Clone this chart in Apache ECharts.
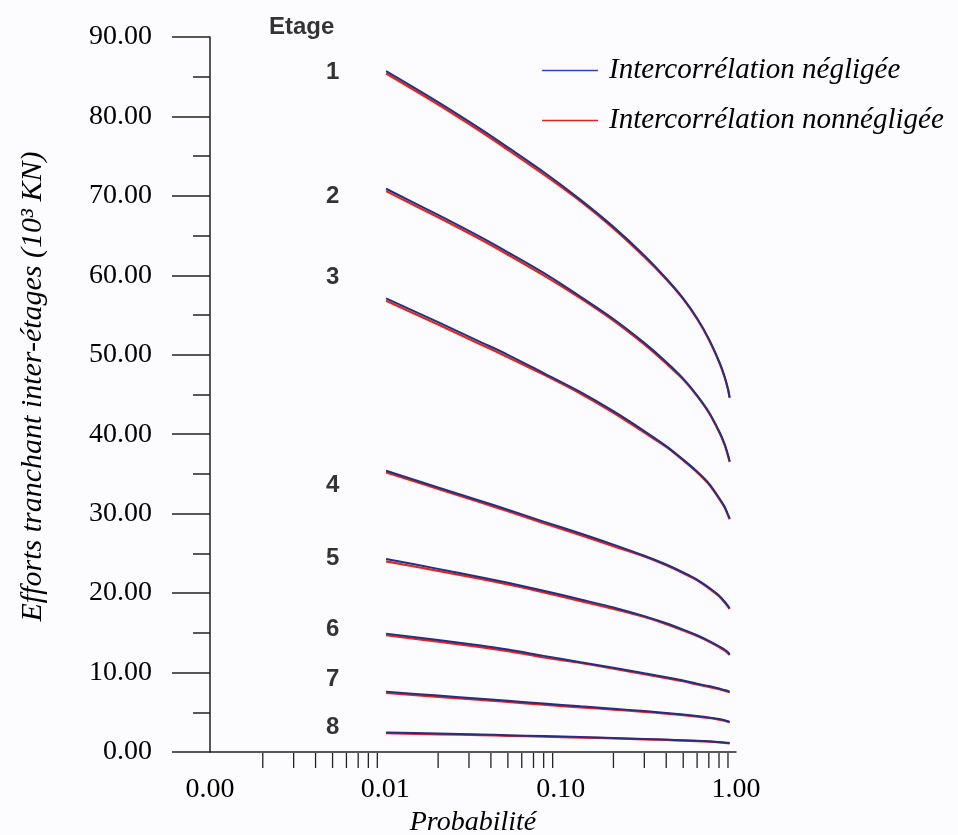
<!DOCTYPE html>
<html>
<head>
<meta charset="utf-8">
<script src="https://cdn.jsdelivr.net/npm/echarts@6/dist/echarts.min.js"></script>
<style>
  html, body { margin: 0; padding: 0; background: #fcfcfe; }
  #chart { width: 958px; height: 835px; }
</style>
</head>
<body>
<div id="chart"></div>
<script>
// Probabilité de dépassement (axe logarithmique)
const probabilite = [0.0101, 0.02, 0.035, 0.05, 0.08, 0.13, 0.2, 0.3, 0.4, 0.5, 0.6, 0.7, 0.8, 0.86, 0.9, 0.92];

// Efforts tranchants, intercorrélation négligée (10³ KN)
const etage1N = [85.7, 81.8, 78.4, 76.1, 73.0, 69.5, 66.1, 62.5, 59.6, 57.1, 54.6, 52.0, 49.2, 47.3, 45.7, 44.6];
const etage2N = [70.9, 67.6, 64.8, 62.9, 60.3, 57.3, 54.5, 51.5, 49.1, 47.0, 44.9, 42.8, 40.4, 38.8, 37.4, 36.6];
const etage3N = [57.1, 54.1, 51.6, 50.0, 47.7, 45.3, 42.9, 40.4, 38.5, 36.8, 35.3, 33.8, 32.0, 30.9, 29.9, 29.4];
const etage4N = [35.4, 33.3, 31.6, 30.5, 29.0, 27.5, 26.1, 24.7, 23.6, 22.6, 21.7, 20.7, 19.7, 18.95, 18.4, 18.1];
const etage5N = [24.3, 23.05, 22.0, 21.3, 20.3, 19.2, 18.2, 17.1, 16.2, 15.4, 14.7, 14.0, 13.3, 12.9, 12.55, 12.3];
const etage6N = [14.9, 14.1, 13.4, 12.9, 12.1, 11.3, 10.6, 9.9, 9.4, 9.0, 8.6, 8.3, 8.0, 7.8, 7.67, 7.6];
const etage7N = [7.6, 7.1, 6.7, 6.45, 6.1, 5.75, 5.45, 5.15, 4.92, 4.72, 4.53, 4.35, 4.15, 4.0, 3.88, 3.8];
const etage8N = [2.45, 2.32, 2.2, 2.12, 2.0, 1.88, 1.77, 1.65, 1.56, 1.48, 1.41, 1.34, 1.26, 1.2, 1.15, 1.12];

// Efforts tranchants, intercorrélation non négligée (10³ KN)
const etage1C = [85.4, 81.5, 78.1, 75.8, 72.7, 69.3, 65.9, 62.3, 59.5, 57.0, 54.5, 51.9, 49.1, 47.2, 45.65, 44.6];
const etage2C = [70.6, 67.3, 64.5, 62.6, 60.0, 57.1, 54.3, 51.3, 48.9, 46.9, 44.8, 42.7, 40.3, 38.7, 37.3, 36.5];
const etage3C = [56.8, 53.8, 51.3, 49.7, 47.5, 45.1, 42.7, 40.2, 38.4, 36.7, 35.2, 33.7, 31.9, 30.8, 29.8, 29.3];
const etage4C = [35.2, 33.1, 31.4, 30.3, 28.8, 27.3, 25.9, 24.6, 23.5, 22.5, 21.6, 20.6, 19.6, 18.85, 18.3, 18.0];
const etage5C = [24.0, 22.8, 21.8, 21.1, 20.1, 19.0, 18.0, 17.0, 16.1, 15.3, 14.6, 13.9, 13.2, 12.8, 12.45, 12.2];
const etage6C = [14.7, 13.9, 13.2, 12.7, 11.9, 11.2, 10.5, 9.8, 9.3, 8.9, 8.5, 8.2, 7.9, 7.72, 7.58, 7.5];
const etage7C = [7.45, 6.95, 6.55, 6.3, 5.95, 5.62, 5.33, 5.05, 4.83, 4.64, 4.46, 4.28, 4.08, 3.93, 3.8, 3.73];
const etage8C = [2.36, 2.23, 2.12, 2.04, 1.93, 1.82, 1.71, 1.6, 1.51, 1.44, 1.37, 1.3, 1.22, 1.16, 1.1, 1.07];

const seriesNeglige = [etage1N, etage2N, etage3N, etage4N, etage5N, etage6N, etage7N, etage8N];
const seriesCorrele = [etage1C, etage2C, etage3C, etage4C, etage5C, etage6C, etage7C, etage8C];

const nomNeglige = 'Intercorrélation négligée';
const nomCorrele = 'Intercorrélation nonnégligée';

// Graduations secondaires de l'axe des probabilités
const xMinorTicks = [0.002, 0.003, 0.004, 0.005, 0.006, 0.007, 0.008, 0.009,
                     0.02, 0.03, 0.04, 0.05, 0.06, 0.07, 0.08, 0.09,
                     0.2, 0.3, 0.4, 0.5, 0.6, 0.7, 0.8, 0.9];

// Repères des étages
const etageNumeros = ['1', '2', '3', '4', '5', '6', '7', '8'];
const etageLabelY = [85.6, 69.9, 59.7, 33.5, 24.4, 15.4, 9.1, 3.1];
const etageLabelX = 0.005;
const etageTitre = 'Etage';

const serif = '"Liberation Serif", "Times New Roman", serif';
const sans = '"Liberation Sans", Arial, sans-serif';
const BLUE = '#2a46c8';
const RED = '#e02424';

const chart = echarts.init(document.getElementById('chart'), null, { renderer: 'canvas' });

const lineSeries = [];
for (let i = 0; i < 8; i++) {
  lineSeries.push({
    name: nomCorrele, type: 'line', symbol: 'none', showSymbol: false, smooth: 0.3,
    lineStyle: { color: RED, width: 2.2 }, itemStyle: { color: RED },
    data: probabilite.map((p, k) => [p, seriesCorrele[i][k]]), z: 3
  });
}
for (let i = 0; i < 8; i++) {
  lineSeries.push({
    name: nomNeglige, type: 'line', symbol: 'none', showSymbol: false, smooth: 0.3,
    lineStyle: { color: '#24307e', width: 2 }, itemStyle: { color: BLUE },
    data: probabilite.map((p, k) => [p, seriesNeglige[i][k]]), z: 4
  });
}

const labelData = etageNumeros.map((n, i) => [etageLabelX, etageLabelY[i], n]);
labelData.push([0.00333, 91.2, etageTitre]);

const legendIcon = 'path://M0,6.2H56V7.8H0Z';

chart.setOption({
  backgroundColor: '#fcfcfe',
  animation: false,
  grid: { left: 210, right: 222, top: 37, bottom: 83, containLabel: false, outerBoundsMode: 'none' },
  legend: {
    orient: 'vertical', left: 537, top: 51, itemGap: 21,
    itemWidth: 56, itemHeight: 14,
    data: [
      { name: nomNeglige, icon: legendIcon, itemStyle: { color: BLUE, borderWidth: 0 } },
      { name: nomCorrele, icon: legendIcon, itemStyle: { color: RED, borderWidth: 0 } }
    ],
    textStyle: { fontFamily: serif, fontStyle: 'italic', fontSize: 29, color: '#000', padding: [0, 0, 0, 6] }
  },
  xAxis: {
    type: 'log', logBase: 10, min: 0.001, max: 1,
    name: 'Probabilité', nameLocation: 'middle', nameGap: 47,
    nameTextStyle: { fontFamily: serif, fontStyle: 'italic', fontSize: 28, color: '#000' },
    axisLine: { lineStyle: { color: '#222', width: 1.5 } },
    axisTick: { show: false },
    splitLine: { show: false },
    axisLabel: {
      fontFamily: serif, fontSize: 28, color: '#000', margin: 24,
      formatter: v => Number(v).toFixed(2)
    }
  },
  yAxis: {
    type: 'value', min: 0, max: 90, interval: 10,
    name: 'Efforts tranchant inter-étages (10³ KN)', nameLocation: 'middle', nameGap: 162,
    nameRotate: 90,
    nameTextStyle: { fontFamily: serif, fontStyle: 'italic', fontSize: 30, color: '#000', padding: [0, 0, 0, 16] },
    axisLine: { show: true, lineStyle: { color: '#222', width: 1.5 } },
    axisTick: { show: true, length: 38, lineStyle: { color: '#222', width: 1.5 } },
    minorTick: { show: true, splitNumber: 2, length: 17, lineStyle: { color: '#222', width: 1.5 } },
    splitLine: { show: false },
    axisLabel: {
      fontFamily: serif, fontSize: 28, color: '#000', margin: 58,
      formatter: v => Number(v).toFixed(2)
    }
  },
  series: lineSeries.concat([
    {
      name: 'graduations', type: 'custom', clip: false, silent: true,
      data: xMinorTicks.map(v => [v, 0]),
      renderItem: (params, api) => {
        const pt = api.coord([api.value(0), 0]);
        return {
          type: 'line',
          shape: { x1: pt[0], y1: pt[1] + 1, x2: pt[0], y2: pt[1] + 16 },
          style: { stroke: '#222', lineWidth: 1.3 }
        };
      }
    },
    {
      name: 'etages', type: 'scatter', clip: false, silent: true,
      symbolSize: 0, data: labelData,
      label: {
        show: true, position: 'inside',
        formatter: p => p.value[2],
        fontFamily: sans, fontWeight: 'bold', fontSize: 24, color: '#000'
      }
    }
  ])
});
</script>
</body>
</html>
